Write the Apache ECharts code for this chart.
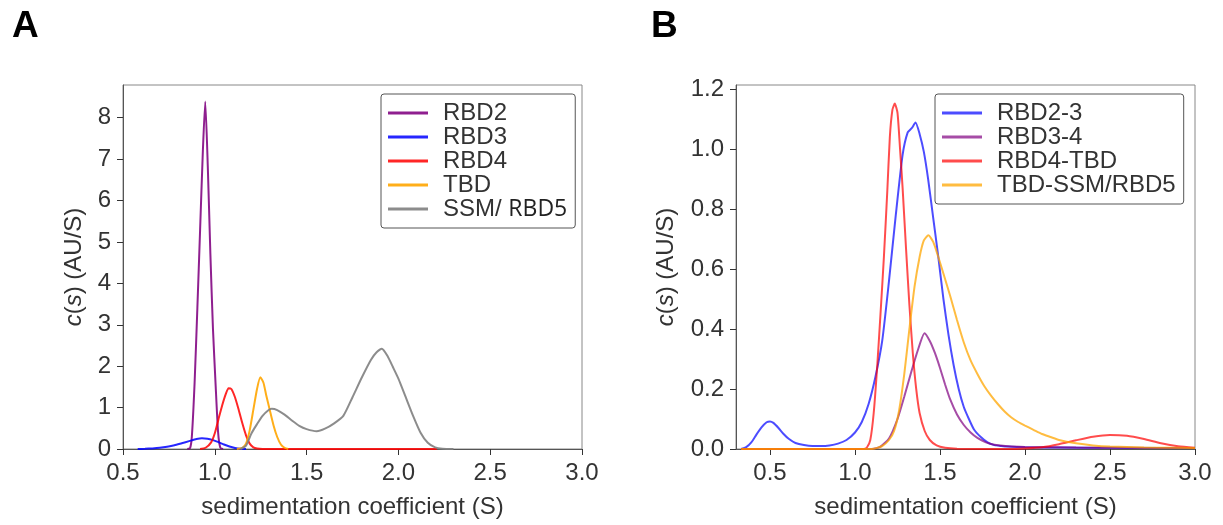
<!DOCTYPE html>
<html><head><meta charset="utf-8">
<script src="https://cdn.jsdelivr.net/npm/echarts@6/dist/echarts.min.js"></script>
<style>html,body{margin:0;padding:0;background:#fff}#c{width:1223px;height:525px}</style>
</head><body><div id="c"></div>
<script>
// ---------- data (s in Svedberg, c(s) in AU/S) ----------
const xTicks = [0.5, 1.0, 1.5, 2.0, 2.5, 3.0];
const yTicksA = [0, 1, 2, 3, 4, 5, 6, 7, 8];
const yTicksB = [0, 0.2, 0.4, 0.6, 0.8, 1.0, 1.2];
const namesA = ['RBD2', 'RBD3', 'RBD4', 'TBD', 'SSM/RBD5'];
const namesB = ['RBD2-3', 'RBD3-4', 'RBD4-TBD', 'TBD-SSM/RBD5'];

// Panel A
const rbd2 = [[0.85,0],[0.865,0.02],[0.875,0.3],[0.89,1.6],[0.905,3.4],[0.92,5.3],[0.935,7.2],[0.948,8.39],[0.962,6.8],[0.976,4.7],[0.99,2.9],[1.005,1.5],[1.018,0.4],[1.03,0.03],[1.045,0]];
const rbd3 = [[0.58,0],[0.62,0.005],[0.66,0.015],[0.7,0.03],[0.74,0.055],[0.78,0.09],[0.82,0.14],[0.86,0.19],[0.9,0.24],[0.93,0.26],[0.96,0.25],[0.99,0.215],[1.02,0.165],[1.05,0.11],[1.08,0.06],[1.11,0.025],[1.14,0.005],[1.17,0]];
const rbd4 = [[0.92,0],[0.95,0.03],[0.98,0.16],[1.0,0.38],[1.02,0.72],[1.04,1.05],[1.06,1.33],[1.075,1.47],[1.09,1.45],[1.11,1.25],[1.13,0.95],[1.15,0.62],[1.17,0.33],[1.19,0.13],[1.21,0.04],[1.23,0.01],[1.26,0],[1.6,0],[2.0,0],[2.21,0]];
const tbd = [[1.12,0],[1.15,0.03],[1.17,0.13],[1.19,0.45],[1.21,0.95],[1.23,1.45],[1.248,1.73],[1.265,1.6],[1.28,1.3],[1.3,0.93],[1.32,0.57],[1.34,0.29],[1.36,0.11],[1.38,0.03],[1.4,0]];
const ssm = [[1.14,0],[1.17,0.08],[1.2,0.38],[1.23,0.6],[1.26,0.8],[1.29,0.93],[1.31,0.97],[1.34,0.94],[1.38,0.83],[1.42,0.69],[1.46,0.56],[1.5,0.48],[1.555,0.43],[1.6,0.49],[1.65,0.62],[1.7,0.8],[1.75,1.25],[1.8,1.72],[1.85,2.15],[1.88,2.33],[1.91,2.42],[1.94,2.25],[1.97,1.98],[2.0,1.7],[2.04,1.25],[2.08,0.8],[2.12,0.4],[2.16,0.15],[2.2,0.04],[2.24,0.005],[2.3,0]];

// Panel B
const rbd23 = [[0.33,0],[0.36,0.006],[0.39,0.022],[0.42,0.048],[0.45,0.072],[0.48,0.089],[0.5,0.092],[0.52,0.087],[0.55,0.07],[0.58,0.05],[0.61,0.034],[0.65,0.02],[0.7,0.013],[0.75,0.01],[0.8,0.01],[0.85,0.012],[0.9,0.018],[0.95,0.03],[1.0,0.055],[1.04,0.09],[1.08,0.15],[1.12,0.24],[1.16,0.36],[1.2,0.56],[1.24,0.78],[1.28,0.98],[1.31,1.055],[1.335,1.07],[1.356,1.088],[1.38,1.05],[1.405,0.99],[1.43,0.9],[1.46,0.77],[1.49,0.64],[1.52,0.5],[1.55,0.38],[1.58,0.28],[1.61,0.2],[1.64,0.14],[1.67,0.1],[1.7,0.065],[1.74,0.04],[1.78,0.022],[1.82,0.013],[1.86,0.01],[1.9,0.008],[2.0,0.006],[2.2,0.005],[2.5,0.004],[2.8,0.003],[3.0,0.003]];
const rbd34 = [[0.33,0],[1.1,0],[1.15,0.008],[1.2,0.035],[1.25,0.1],[1.29,0.175],[1.33,0.255],[1.37,0.33],[1.409,0.386],[1.44,0.36],[1.47,0.32],[1.5,0.27],[1.53,0.215],[1.56,0.165],[1.6,0.115],[1.64,0.08],[1.68,0.055],[1.72,0.037],[1.77,0.022],[1.82,0.014],[1.9,0.009],[2.0,0.007],[2.3,0.005],[2.6,0.004],[3.0,0.003]];
const rbd4tbd = [[0.33,0],[1.05,0],[1.07,0.005],[1.09,0.03],[1.11,0.12],[1.13,0.27],[1.15,0.45],[1.17,0.64],[1.19,0.86],[1.205,1.04],[1.22,1.13],[1.234,1.151],[1.25,1.12],[1.265,1.0],[1.28,0.87],[1.3,0.67],[1.32,0.48],[1.34,0.32],[1.36,0.2],[1.38,0.12],[1.41,0.06],[1.44,0.03],[1.48,0.012],[1.53,0.004],[1.6,0.001],[1.9,0],[2.0,0.002],[2.1,0.006],[2.2,0.016],[2.3,0.029],[2.4,0.041],[2.5,0.047],[2.6,0.044],[2.7,0.033],[2.8,0.019],[2.9,0.009],[3.0,0.004]];
const tbdssm = [[0.33,0],[1.1,0],[1.16,0.01],[1.2,0.03],[1.23,0.06],[1.26,0.13],[1.29,0.25],[1.32,0.4],[1.35,0.54],[1.38,0.64],[1.405,0.695],[1.432,0.712],[1.46,0.69],[1.49,0.64],[1.52,0.585],[1.56,0.51],[1.6,0.43],[1.64,0.355],[1.68,0.295],[1.72,0.25],[1.76,0.21],[1.8,0.178],[1.84,0.15],[1.88,0.125],[1.92,0.105],[1.96,0.09],[2.0,0.078],[2.05,0.064],[2.1,0.05],[2.15,0.04],[2.2,0.03],[2.3,0.019],[2.4,0.012],[2.5,0.008],[2.7,0.005],[3.0,0.003]];

// ---------- styling ----------
const FONT = '"Liberation Sans", Arial, sans-serif';
const TXT = '#333';
const FS = 24;
const colA = {RBD2:'rgba(128,0,128,0.88)', RBD3:'rgba(0,0,255,0.85)', RBD4:'rgba(255,0,0,0.85)', TBD:'rgba(255,165,0,0.9)', 'SSM/RBD5':'rgba(128,128,128,0.9)'};
const colB = {'RBD2-3':'rgba(0,0,255,0.7)', 'RBD3-4':'rgba(128,0,128,0.7)', 'RBD4-TBD':'rgba(255,0,0,0.7)', 'TBD-SSM/RBD5':'rgba(255,165,0,0.75)'};

function xAxis(gi, min) {
  return {
    type:'value', gridIndex:gi, min:min, max:3.0,
    axisLine:{show:true, onZero:false, lineStyle:{color:'#555', width:1}},
    axisTick:{show:true, length:6, customValues:xTicks, lineStyle:{color:'#333', width:1}},
    axisLabel:{customValues:xTicks, formatter:v=>v.toFixed(1), fontSize:FS, color:TXT, margin:12, fontFamily:FONT},
    splitLine:{show:false},
    name:'sedimentation coefficient (S)', nameLocation:'middle', nameGap:46,
    nameTextStyle:{fontSize:FS, color:TXT, fontFamily:FONT}
  };
}
function yAxis(gi, max, ticks, fmt, gap) {
  return {
    type:'value', gridIndex:gi, min:0, max:max,
    axisLine:{show:true, lineStyle:{color:'#555', width:1}},
    axisTick:{show:true, length:6, customValues:ticks, lineStyle:{color:'#333', width:1}},
    axisLabel:{customValues:ticks, formatter:fmt, fontSize:FS, color:TXT, margin:12, fontFamily:FONT},
    splitLine:{show:false},
    name:'{i|c}({i|s}) (AU/S)', nameLocation:'middle', nameGap:gap,
    nameTextStyle:{fontSize:FS, color:TXT, fontFamily:FONT,
      rich:{i:{fontStyle:'italic', fontSize:FS, color:TXT, fontFamily:FONT}}}
  };
}
function line(name, data, gi, color) {
  return {type:'line', name:name, data:data, xAxisIndex:gi, yAxisIndex:gi,
    symbol:'none', showSymbol:false, smooth:0.2, lineStyle:{color:color, width:2},
    itemStyle:{color:color}, emphasis:{disabled:true}};
}
function legend(names, left, fmt) {
  return {
    data:names, orient:'vertical', left:left, top:94, itemGap:0, itemWidth:40, itemHeight:3, icon:'rect',
    padding:[7,8,7,7], borderColor:'#555', borderWidth:1, borderRadius:3, backgroundColor:'#fff',
    selectedMode:false, formatter:fmt,
    textStyle:{fontSize:FS, color:TXT, fontFamily:FONT, lineHeight:24, padding:[0,0,0,10],
      rich:{a:{fontSize:FS, color:TXT, fontFamily:FONT, lineHeight:24},
            b:{fontSize:23, color:'#222', fontFamily:'"Open Sans", sans-serif', lineHeight:24}}}
  };
}

const chart = echarts.init(document.getElementById('c'), null, {renderer:'canvas'});
chart.setOption({
  animation:false,
  backgroundColor:'#fff',
  grid:[
    {left:123, top:85, width:459, height:364, show:true, borderColor:'#888', borderWidth:1, backgroundColor:'transparent'},
    {left:736, top:85, width:459, height:364, show:true, borderColor:'#888', borderWidth:1, backgroundColor:'transparent'}
  ],
  xAxis:[xAxis(0, 0.5), xAxis(1, 0.3)],
  yAxis:[yAxis(0, 8.79, yTicksA, v=>String(Math.round(v)), 37), yAxis(1, 1.213, yTicksB, v=>v.toFixed(1), 58)],
  legend:[
    legend(namesA, 381, n => n === 'SSM/RBD5' ? '{a|SSM/ }{b|RBD5}' : n),
    legend(namesB, 935, n => n)
  ],
  graphic:[
    {type:'text', left:12, top:8, style:{text:'A', font:'bold 37px "Liberation Sans", Arial, sans-serif', fill:'#000'}},
    {type:'text', left:651, top:8, style:{text:'B', font:'bold 37px "Liberation Sans", Arial, sans-serif', fill:'#000'}}
  ],
  series:[
    line('RBD2', rbd2, 0, colA.RBD2),
    line('RBD3', rbd3, 0, colA.RBD3),
    line('RBD4', rbd4, 0, colA.RBD4),
    line('TBD', tbd, 0, colA.TBD),
    line('SSM/RBD5', ssm, 0, colA['SSM/RBD5']),
    line('RBD2-3', rbd23, 1, colB['RBD2-3']),
    line('RBD3-4', rbd34, 1, colB['RBD3-4']),
    line('RBD4-TBD', rbd4tbd, 1, colB['RBD4-TBD']),
    line('TBD-SSM/RBD5', tbdssm, 1, colB['TBD-SSM/RBD5'])
  ]
});
</script></body></html>
